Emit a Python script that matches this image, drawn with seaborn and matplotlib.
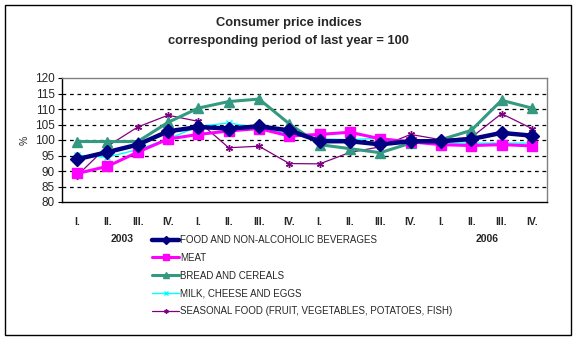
import matplotlib
matplotlib.use("Agg")
import matplotlib.pyplot as plt
from matplotlib.patches import Rectangle
import seaborn as sns
import pandas as pd
import numpy as np

quarters = ["I.", "II.", "III.", "IV."] * 4
years = ["2003", "2006"]

food = [93.8, 96.1, 98.5, 102.8, 104.2, 103.7, 104.4, 103.1,
        99.6, 99.6, 98.6, 99.6, 99.6, 100.3, 102.3, 101.4]
meat = [89.2, 91.5, 96.1, 100.3, 101.8, 102.9, 103.7, 101.3,
        101.8, 102.5, 100.4, 99.4, 98.5, 98.2, 98.5, 98.1]
bread = [99.5, 99.5, 99.5, 105.7, 110.3, 112.4, 113.2, 105.2,
         98.5, 97.2, 95.9, 99.0, 100.1, 103.1, 112.8, 110.3]
milk = [95.1, 94.5, 96.9, 100.3, 104.4, 105.5, 103.9, 102.0,
        100.4, 100.1, 100.6, 99.5, 99.0, 99.0, 99.0, 99.0]
seasonal = [88.5, 98.0, 104.2, 108.0, 106.0, 97.5, 98.0, 92.4,
            92.3, 96.0, 97.8, 101.8, 100.1, 100.8, 108.5, 103.7]

labels = ["FOOD AND NON-ALCOHOLIC BEVERAGES", "MEAT", "BREAD AND CEREALS",
          "MILK, CHEESE AND EGGS",
          "SEASONAL FOOD (FRUIT, VEGETABLES, POTATOES, FISH)"]

sns.set_theme(style="white")
plt.rcParams["font.family"] = ["Liberation Sans", "DejaVu Sans"]

fig = plt.figure(figsize=(5.77, 3.40), dpi=100)
fig.patch.set_facecolor("white")
# outer frame around the whole chart
fig.add_artist(Rectangle((5 / 577, 5 / 340), 566 / 577, 330 / 340,
                         transform=fig.transFigure, fill=False,
                         edgecolor="black", linewidth=1.0))

ax = fig.add_axes([62 / 577, 138 / 340, 485 / 577, 124 / 340])

pos = np.arange(len(quarters))
df = pd.DataFrame({"pos": pos, "food": food, "meat": meat, "bread": bread,
                   "milk": milk, "seasonal": seasonal})

styles = [
    ("food", "#000080", 3.2, "D", 7.5, "#000080"),
    ("meat", "#FF00FF", 2.2, "s", 7, "#FF00FF"),
    ("bread", "#339980", 2.2, "^", 6.5, "#339980"),
    ("milk", "#00FFFF", 1.0, "x", 4.5, "#00FFFF"),
    ("seasonal", "#800080", 0.9, (6, 2, 0), 5, "#800080"),
]

# draw back-to-front so the food line stays on top
order = [4, 3, 2, 1, 0]
for i in order:
    col, color, lw, mk, ms, mc = styles[i]
    sns.lineplot(data=df, x="pos", y=col, ax=ax, color=color, linewidth=lw,
                 marker=mk, markersize=ms, markerfacecolor=mc,
                 markeredgecolor=mc, markeredgewidth=1.0, zorder=3 + (5 - i),
                 legend=False)

ax.set_xlim(-0.5, len(quarters) - 0.5)
ax.set_ylim(80, 120)
ax.set_yticks(np.arange(80, 121, 5))
ax.set_yticklabels([str(v) for v in range(80, 121, 5)], fontsize=8.5)
for v in range(85, 120, 5):
    ax.axhline(v, color="black", linestyle=(0, (3, 3)), linewidth=0.9, zorder=1)

ax.set_xticks(pos)
ax.set_xticklabels(quarters, fontsize=7.5, fontweight="bold")
ax.set_xticks(np.arange(-0.5, len(quarters), 1), minor=True)
ax.tick_params(axis="x", which="major", length=0, pad=11)
ax.tick_params(axis="x", which="minor", direction="in", length=3, width=0.8,
               color="black")
ax.tick_params(axis="y", which="major", direction="out", length=3, width=0.8,
               color="black", pad=2, left=True)
ax.set_xlabel("")
ax.set_ylabel("%", fontsize=7.5, labelpad=4)

for side in ["top", "right"]:
    ax.spines[side].set_color("#808080")
    ax.spines[side].set_linewidth(1.0)
for side in ["left", "bottom"]:
    ax.spines[side].set_color("black")
    ax.spines[side].set_linewidth(1.0)

fig.text(0.5, 1 - 23 / 340, "Consumer price indices", ha="center",
         va="center", fontsize=9.3, fontweight="bold")
fig.text(0.5, 1 - 41 / 340, "corresponding period of last year = 100",
         ha="center", va="center", fontsize=9.3, fontweight="bold")

fig.text(122 / 577, 1 - 239 / 340, years[0], ha="center", va="center",
         fontsize=7.5, fontweight="bold")
fig.text(487 / 577, 1 - 239 / 340, years[1], ha="center", va="center",
         fontsize=7.5, fontweight="bold")

handles = []
for col, color, lw, mk, ms, mc in styles:
    h, = ax.plot([], [], color=color, linewidth=lw, marker=mk,
                 markersize=ms * 0.6, markerfacecolor=mc, markeredgecolor=mc)
    handles.append(h)
fig.legend(handles, labels, loc="upper left",
           bbox_to_anchor=(152 / 577, 1 - 235 / 340), frameon=False,
           fontsize=7, handlelength=2.8, handletextpad=0.1,
           labelspacing=0.8, borderaxespad=0, borderpad=0)

fig.savefig("out.png", dpi=100)
